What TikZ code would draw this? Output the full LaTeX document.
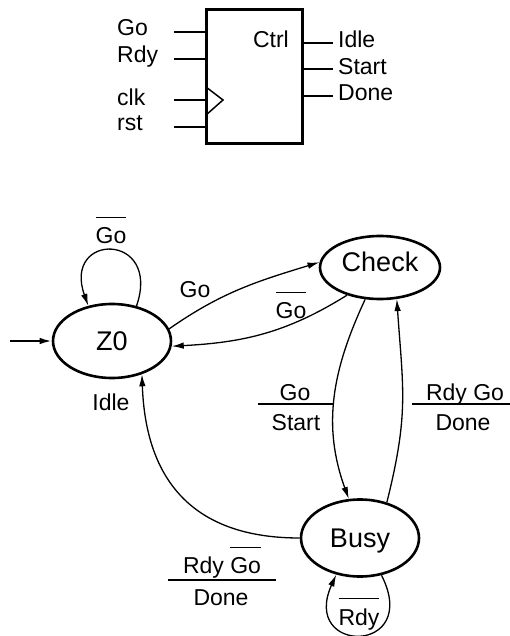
\documentclass[tikz,border=0pt]{standalone}
\usepackage{fontspec}
\setmainfont{Liberation Sans}
\usetikzlibrary{shapes.geometric,arrows.meta}
\newcommand\ovl[1]{\vbox{\hrule height 1.3pt\kern 9pt\hbox{#1}}}
\begin{document}
\begin{tikzpicture}[x=1pt,y=-1pt,
  lbl/.style={font=\fontsize{23}{26}\selectfont, inner sep=0pt},
  state/.style={ellipse, draw, line width=2.6pt, inner sep=0pt,
    font=\fontsize{27}{30}\selectfont, text height=19.3pt, text depth=0pt},
  tr/.style={line width=1.3pt, -{Latex[length=12pt,width=6.5pt]}},
  wire/.style={line width=1.8pt},
  fracline/.style={line width=1.3pt}]
\useasboundingbox (0,0) rectangle (510,636);

% ---- block symbol ----
\node[draw, line width=3pt, minimum width=96pt, minimum height=134pt, inner sep=0pt] (ctrl) at (254,77) {};
\node[lbl, anchor=base east] (ctrlname) at (289,48) {Ctrl};

\node[lbl, anchor=base west] (inGo) at (117,36) {Go};
\node[lbl, anchor=base west] (inRdy) at (117,63) {Rdy};
\node[lbl, anchor=base west] (inClk) at (117,106) {clk};
\node[lbl, anchor=base west] (inRst) at (117,131) {rst};
\coordinate (pGo) at (174,32);
\coordinate (pRdy) at (174,59);
\coordinate (pClk) at (174,100);
\coordinate (pRst) at (174,127);
\draw[wire] (pGo) -- (pGo -| ctrl.west);
\draw[wire] (pRdy) -- (pRdy -| ctrl.west);
\draw[wire] (pClk) -- (pClk -| ctrl.west);
\draw[wire] (pRst) -- (pRst -| ctrl.west);
\coordinate (ck1) at (206,87);
\coordinate (ck2) at (223,100);
\coordinate (ck3) at (206,115);
\draw[line width=1.5pt, line join=miter] (ck1) -- (ck2) -- (ck3);

\coordinate (oIdle) at (333,43);
\coordinate (oStart) at (333,69);
\coordinate (oDone) at (333,96);
\draw[wire] (oIdle -| ctrl.east) -- (oIdle);
\draw[wire] (oStart -| ctrl.east) -- (oStart);
\draw[wire] (oDone -| ctrl.east) -- (oDone);
\node[lbl, anchor=base west] (outIdle) at (338,48) {Idle};
\node[lbl, anchor=base west] (outStart) at (338,75) {Start};
\node[lbl, anchor=base west] (outDone) at (338,101) {Done};

% ---- state diagram ----
\node[state, minimum width=118pt, minimum height=74pt] (z0) at (112,341) {Z0};
\node[state, minimum width=120pt, minimum height=63pt, text depth=11pt] (check) at (380,267.5) {Check};
\node[state, minimum width=118pt, minimum height=77pt] (busy) at (360,538) {Busy};

\coordinate (init) at (10,341);
\draw[tr, line width=1.8pt] (init) -- (z0.west);

\draw[tr] (z0.55) .. controls (162,232) and (62,232) .. (z0.124);
\draw[tr] (z0.12) to[out=35,in=197] (check.175);
\draw[tr] (check.220) to[out=212,in=3] (z0.355);
\draw[tr] (check.245) to[out=245,in=110] (busy.106);
\draw[tr] (busy.53) to[out=76,in=-86,looseness=1.15] (check.298);
\draw[tr] (busy.180) to[out=180,in=-88,looseness=1.2] (z0.312);
\draw[tr] (busy.-60) .. controls (422,655) and (300,655) .. (busy.237);

% ---- labels ----
\node[lbl, anchor=base] (lz0) at (111,243) {\ovl{Go}};
\node[lbl, anchor=base] (lidle) at (111,410) {Idle};
\node[lbl, anchor=base] (lgo) at (195,297) {Go};
\node[lbl, anchor=base] (lngo) at (291,318) {\ovl{Go}};

\node[lbl, anchor=base] (lgsN) at (295,400) {Go};
\draw[fracline] (258,404) -- (333,404);
\node[lbl, anchor=base] (lgsD) at (296,430) {Start};

\node[lbl, anchor=base] (lrgN) at (465,400) {Rdy Go};
\draw[fracline] (412,404) -- (510,404);
\node[lbl, anchor=base] (lrgD) at (463,430) {Done};

\node[lbl, anchor=base] (lrnN) at (222,573) {Rdy \ovl{Go}};
\draw[fracline] (168,580) -- (276,580);
\node[lbl, anchor=base] (lrnD) at (221,605) {Done};

\node[lbl, anchor=base] (lnrdy) at (359,625) {\ovl{Rdy}};
\end{tikzpicture}
\end{document}
